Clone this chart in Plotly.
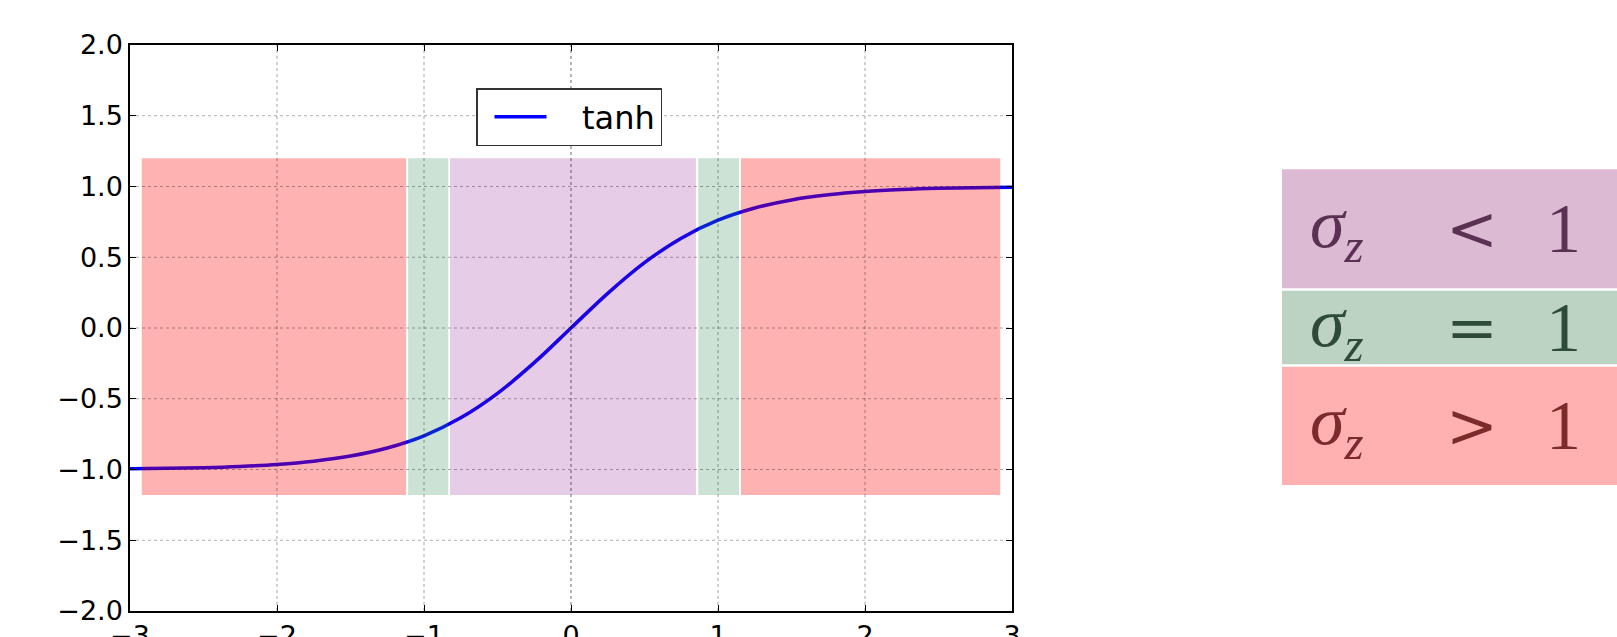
import plotly.graph_objects as go

# ---- data ----
x_vals = [-3.0, -2.75, -2.5, -2.25, -2.0, -1.75, -1.5, -1.25, -1.0, -0.75, -0.5, -0.25,
          0.0, 0.25, 0.5, 0.75, 1.0, 1.25, 1.5, 1.75, 2.0, 2.25, 2.5, 2.75, 3.0]
y_vals = [-0.995, -0.992, -0.987, -0.978, -0.964, -0.941, -0.905, -0.848, -0.762, -0.635,
          -0.462, -0.245, 0.0, 0.245, 0.462, 0.635, 0.762, 0.848, 0.905, 0.941, 0.964,
          0.978, 0.987, 0.992, 0.995]
series_name = "tanh"

band_x0 = [-2.92, -1.108, -0.823, 0.866, 1.156]
band_x1 = [-1.122, -0.835, 0.850, 1.143, 2.92]
band_kind = ["gt", "eq", "lt", "eq", "gt"]
band_y0 = -1.18
band_y1 = 1.20

x_ticks = [-3, -2, -1, 0, 1, 2, 3]
y_ticks = [-2.0, -1.5, -1.0, -0.5, 0.0, 0.5, 1.0, 1.5, 2.0]

key_kinds = ["lt", "eq", "gt"]
key_ops = ["<", "=", ">"]
key_rhs = ["1", "1", "1"]

# ---- styles ----
band_fill = {"gt": "rgba(255,0,0,0.30)", "eq": "rgba(46,139,87,0.25)", "lt": "rgba(128,0,128,0.20)"}
key_fill = {"lt": "#dcbad4", "eq": "#bcd3c4", "gt": "#ffb1b1"}
key_text = {"lt": "#5a3152", "eq": "#2e4a38", "gt": "#7c2a2a"}
grid_color = "rgba(0,0,0,0.32)"

W, H = 1617, 637
ML, MR, MT, MB = 130, 605, 45, 26
PW, PH = W - ML - MR, H - MT - MB

def px_to_paper_x(px):
    return (px - ML) / PW

def px_to_paper_y(py):
    return (H - MB - py) / PH

fig = go.Figure()
fig.add_trace(go.Scatter(x=x_vals, y=y_vals, mode="lines", name="\u00a0\u00a0\u00a0" + series_name,
                         line=dict(color="#0000ff", width=3.5, shape="spline"),
                         showlegend=True))

shapes = []
for x0, x1, k in zip(band_x0, band_x1, band_kind):
    shapes.append(dict(type="rect", xref="x", yref="y", x0=x0, x1=x1, y0=band_y0, y1=band_y1,
                       fillcolor=band_fill[k], line=dict(width=0), layer="above"))

# grid lines drawn above the bands, at the tick positions
for xv in x_ticks[1:-1]:
    shapes.append(dict(type="line", xref="x", yref="paper", x0=xv, x1=xv, y0=0, y1=1,
                       line=dict(color=grid_color, width=1.8 if xv == 0 else 1.1, dash="dot"),
                       layer="above"))
for yv in y_ticks[1:-1]:
    shapes.append(dict(type="line", xref="paper", yref="y", x0=0, x1=1, y0=yv, y1=yv,
                       line=dict(color=grid_color, width=1.1, dash="dot"), layer="above"))

# right-hand key boxes (pixel rows)
key_rows = [(169.3, 288.3), (290.7, 364.3), (366.7, 485.0)]
annotations = []
for (top, bot), k, op, rhs in zip(key_rows, key_kinds, key_ops, key_rhs):
    shapes.append(dict(type="rect", xref="paper", yref="paper",
                       x0=px_to_paper_x(1282), x1=px_to_paper_x(1620),
                       y0=px_to_paper_y(bot), y1=px_to_paper_y(top),
                       fillcolor=key_fill[k], line=dict(width=0), layer="above"))
    yc = px_to_paper_y((top + bot) / 2)
    f = dict(family="Liberation Serif", size=70, color=key_text[k])
    fo = dict(family="DejaVu Serif", size=62, color=key_text[k])
    annotations.append(dict(xref="paper", yref="paper", x=px_to_paper_x(1308), y=yc,
                            xanchor="left", yanchor="middle", showarrow=False,
                            text="<i>σ</i><sub><i>z</i></sub>", font=f))
    annotations.append(dict(xref="paper", yref="paper", x=px_to_paper_x(1472), y=yc,
                            xanchor="center", yanchor="middle", showarrow=False,
                            text=op, font=fo))
    annotations.append(dict(xref="paper", yref="paper", x=px_to_paper_x(1563), y=yc,
                            xanchor="center", yanchor="middle", showarrow=False,
                            text=rhs, font=f))

axis_common = dict(showline=True, linecolor="black", linewidth=1.5, mirror="ticks",
                   ticks="inside", ticklen=6, tickwidth=1, tickcolor="black",
                   showgrid=False, zeroline=False, automargin=False,
                   tickfont=dict(family="DejaVu Sans", size=27, color="black"))

fig.update_layout(
    width=W, height=H,
    margin=dict(l=ML, r=MR, t=MT, b=MB, autoexpand=False),
    paper_bgcolor="white", plot_bgcolor="white",
    xaxis=dict(range=[-3, 3], tickvals=x_ticks, **axis_common),
    yaxis=dict(range=[-2, 2], tickvals=y_ticks, tickformat=".1f", **axis_common),
    legend=dict(x=px_to_paper_x(476), y=px_to_paper_y(88), xanchor="left", yanchor="top",
                bgcolor="white", bordercolor="#333333", borderwidth=1.5,
                font=dict(family="DejaVu Sans", size=32, color="black"),
                itemwidth=52, indentation=12),
    shapes=shapes,
    annotations=annotations,
)

fig.write_html("out.html")
